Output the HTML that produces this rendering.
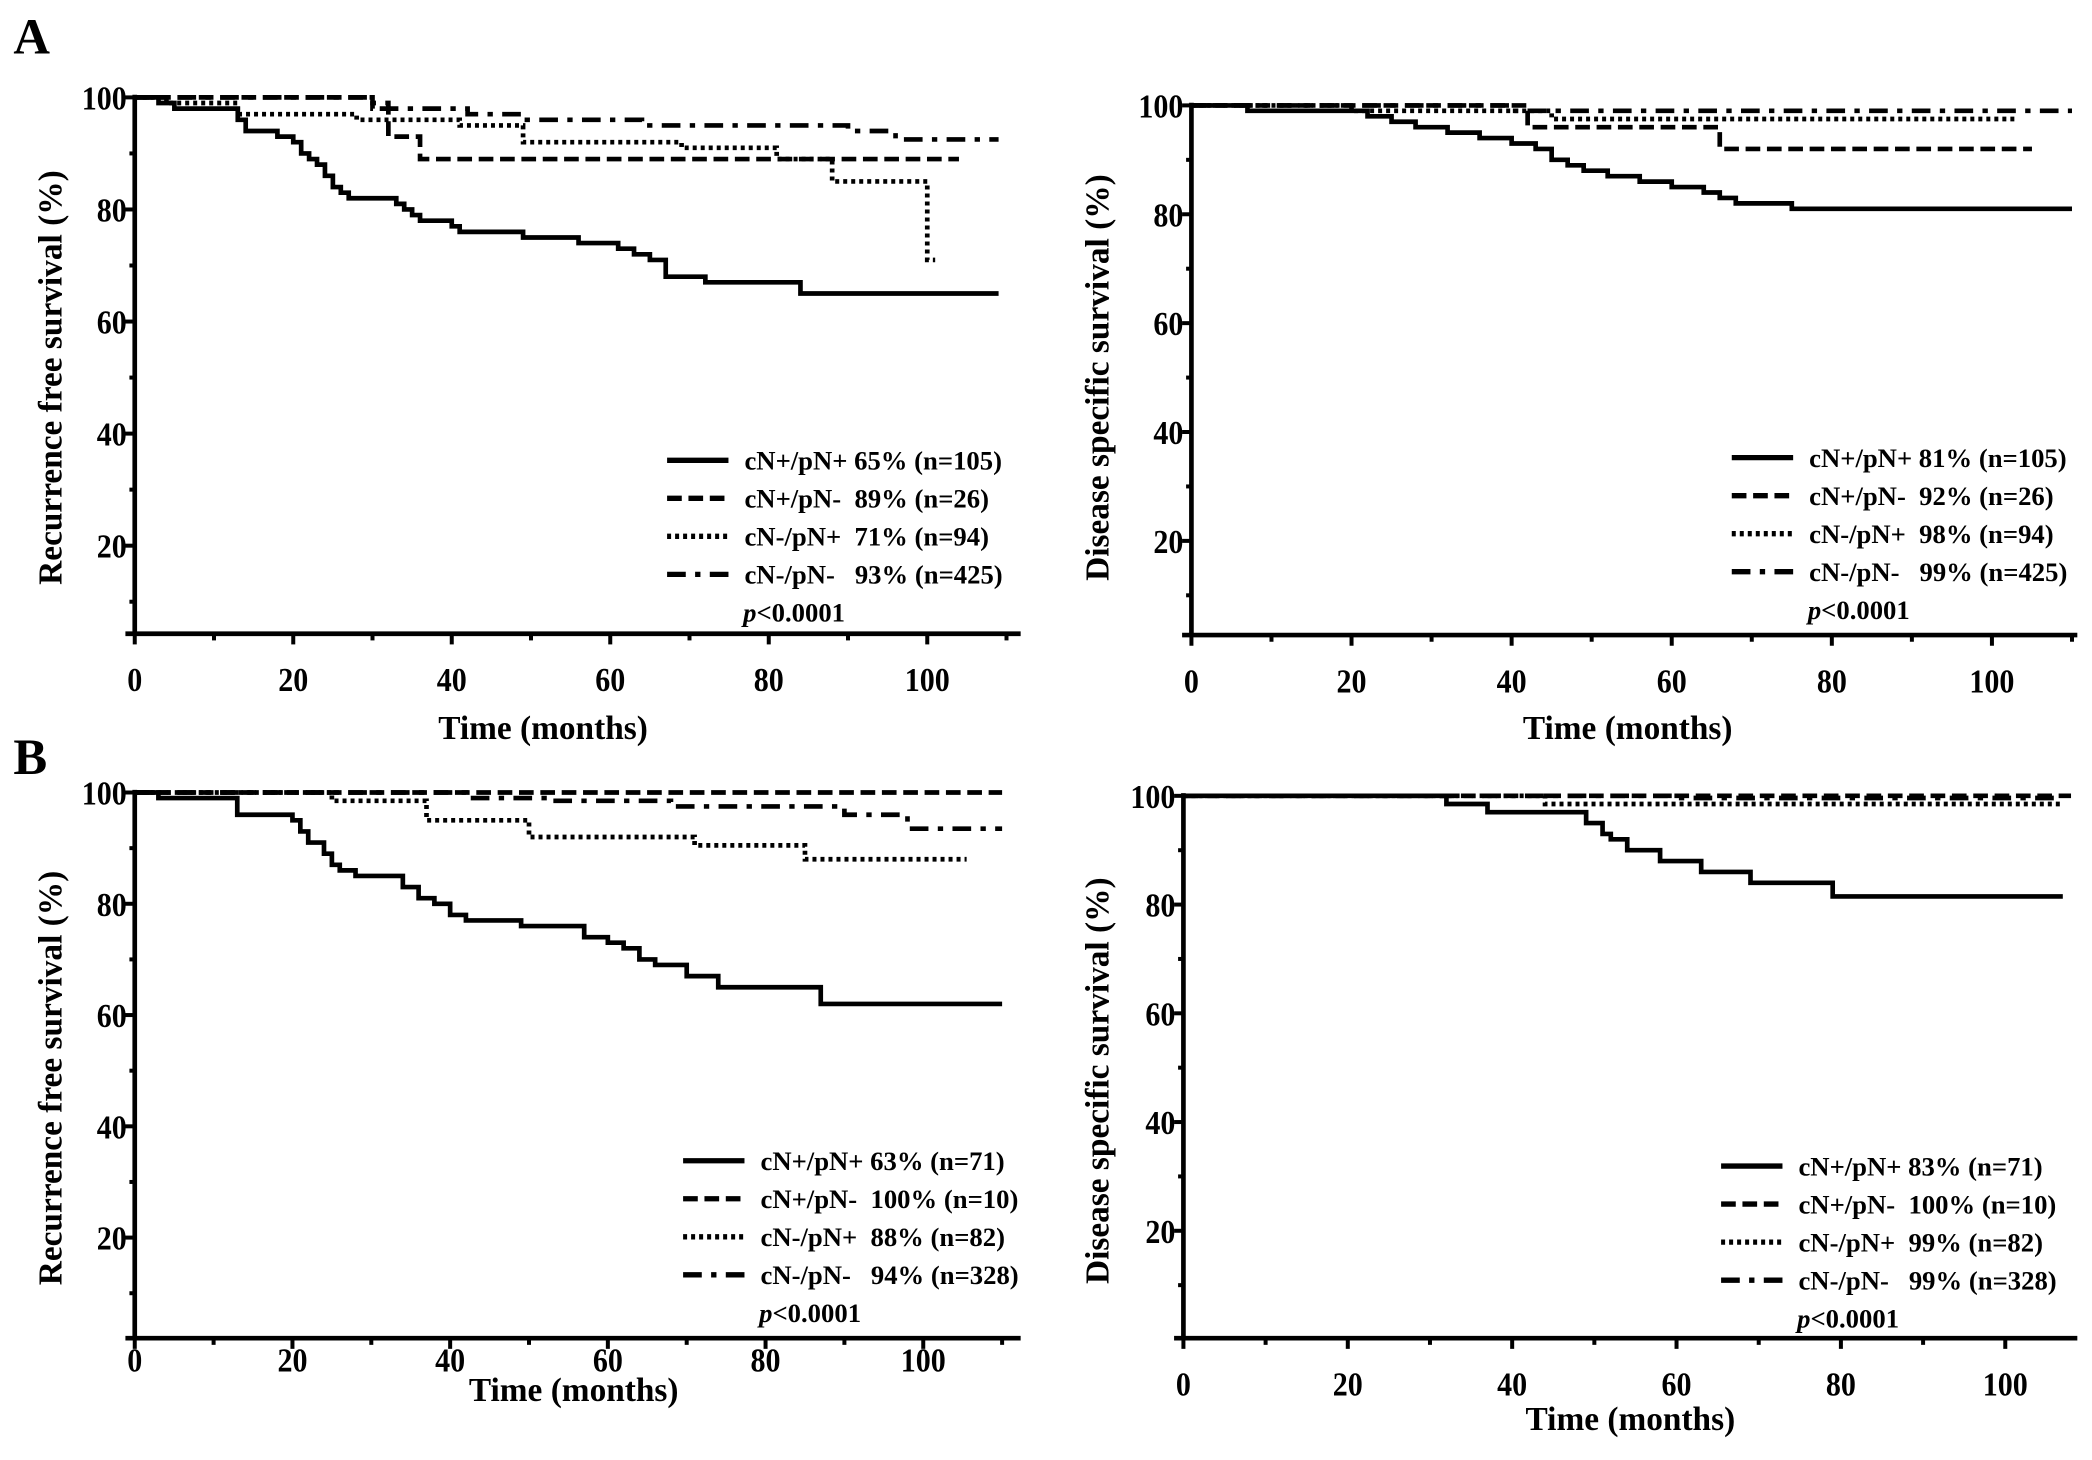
<!DOCTYPE html>
<html><head><meta charset="utf-8"><style>
html,body{margin:0;padding:0;background:#fff;}
svg{display:block;}
text{font-family:"Liberation Serif",serif;font-weight:bold;fill:#000;}
</style></head><body>
<svg id="fig" width="2092" height="1460" viewBox="0 0 1568 1094.3" xmlns="http://www.w3.org/2000/svg">
<text x="10" y="40" font-size="38">A</text>
<text x="10" y="580" font-size="38">B</text>
</svg>
<script>
// ---- data: step changes (time, survival %) ----
// A left: recurrence free survival
const aL_solid_t=[3,5,13,14,18,20,21,22,23,24,25,26,27,33,34,35,36,40,41,49,56,61,63,65,67,72,84];
const aL_solid_v=[99,98,96,94,93,92,90,89,88,86,84,83,82,81,80,79,78,77,76,75,74,73,72,71,68,67,65];
const aL_dash_t=[30,32,36];
const aL_dash_v=[98,93,89];
const aL_dot_t=[4,13,28,41,49,69,81,88,100];
const aL_dot_v=[99,97,96,95,92,91,89,85,71];
const aL_dd_t=[30,32,42,49,64,90,96];
const aL_dd_v=[99,98,97,96,95,94,92.5];
// A right: disease specific survival
const aR_solid_t=[7,22,25,28,32,36,40,43,45,47,49,52,56,60,64,66,68,75];
const aR_solid_v=[99,98,97,96,95,94,93,92,90,89,88,87,86,85,84,83,82,81];
const aR_dash_t=[42,66];
const aR_dash_v=[96,92];
const aR_dot_t=[20,45];
const aR_dot_v=[99,97.5];
const aR_dd_t=[40];
const aR_dd_v=[99];
// B left
const bL_solid_t=[3,13,20,21,22,24,25,26,28,34,36,38,40,42,49,57,60,62,64,66,70,74,87];
const bL_solid_v=[99,96,95,93,91,89,87,86,85,83,81,80,78,77,76,74,73,72,70,69,67,65,62];
const bL_dash_t=[];
const bL_dash_v=[];
const bL_dot_t=[25,37,50,71,85];
const bL_dot_v=[98.5,95,92,90.5,88];
const bL_dd_t=[42,53,68,90,98];
const bL_dd_v=[99,98.5,97.5,96,93.5];
// B right
const bR_solid_t=[32,37,49,51,52,54,58,63,69,79];
const bR_solid_v=[98.5,97,95,93,92,90,88,86,84,81.5];
const bR_dash_t=[];
const bR_dash_v=[];
const bR_dot_t=[44];
const bR_dot_v=[98.5];
const bR_dd_t=[60];
const bR_dd_v=[99.6];
// legend text
const aL_legend=["cN+/pN+ 65% (n=105)","cN+/pN-  89% (n=26)","cN-/pN+  71% (n=94)","cN-/pN-   93% (n=425)"];
const aR_legend=["cN+/pN+ 81% (n=105)","cN+/pN-  92% (n=26)","cN-/pN+  98% (n=94)","cN-/pN-   99% (n=425)"];
const bL_legend=["cN+/pN+ 63% (n=71)","cN+/pN-  100% (n=10)","cN-/pN+  88% (n=82)","cN-/pN-   94% (n=328)"];
const bR_legend=["cN+/pN+ 83% (n=71)","cN+/pN-  100% (n=10)","cN-/pN+  99% (n=82)","cN-/pN-   99% (n=328)"];
const xTicks=[0,20,40,60,80,100];
const yTicks=[20,40,60,80,100];

const NS="http://www.w3.org/2000/svg";
const svg=document.getElementById('fig');
function mk(tag,attrs,parent){const e=document.createElementNS(NS,tag);for(const k in attrs)e.setAttribute(k,attrs[k]);(parent||svg).appendChild(e);return e;}
const dashes={solid:"",dash:"11,5",dot:"3,3",dd:"14,7,4,7"};

const panels=[
 {id:"a-left",x0:101,xs:5.94,y0:493,ys:4.2,axisY:475,xEnd:765,lblOff:43,title:"Recurrence free survival (%)",tx:37,ty:283,xtx:407,xty:554,ends:[109,104,101,109],leg:aL_legend,lx:500,ly:345,series:[[aL_solid_t,aL_solid_v],[aL_dash_t,aL_dash_v],[aL_dot_t,aL_dot_v],[aL_dd_t,aL_dd_v]]},
 {id:"a-right",x0:893,xs:6.0,y0:487,ys:4.08,axisY:476,xEnd:1557,lblOff:43,title:"Disease specific survival (%)",tx:822,ty:283,xtx:1220,xty:554,ends:[110,105,103,110],leg:aR_legend,lx:1298,ly:343,series:[[aR_solid_t,aR_solid_v],[aR_dash_t,aR_dash_v],[aR_dot_t,aR_dot_v],[aR_dd_t,aR_dd_v]]},
 {id:"b-left",x0:101,xs:5.91,y0:1011,ys:4.17,axisY:1003,xEnd:765,lblOff:25,title:"Recurrence free survival (%)",tx:37,ty:808,xtx:430,xty:1050,ends:[110,110,105.5,110],leg:bL_legend,lx:512,ly:870,series:[[bL_solid_t,bL_solid_v],[bL_dash_t,bL_dash_v],[bL_dot_t,bL_dot_v],[bL_dd_t,bL_dd_v]]},
 {id:"b-right",x0:887,xs:6.16,y0:1004,ys:4.075,axisY:1003,xEnd:1557,lblOff:43,title:"Disease specific survival (%)",tx:822,ty:810,xtx:1222,xty:1072,ends:[107,108,107,107],leg:bR_legend,lx:1290,ly:874,series:[[bR_solid_t,bR_solid_v],[bR_dash_t,bR_dash_v],[bR_dot_t,bR_dot_v],[bR_dd_t,bR_dd_v]]}
];
const styles=["solid","dash","dot","dd"];
panels.forEach(p=>{
 const X=v=>p.x0+v*p.xs, Y=v=>p.y0-v*p.ys;
 const g=mk('g',{});
 
 
 const ya=mk('line',{x1:p.x0,y1:Y(100)-2,x2:p.x0,y2:p.axisY,stroke:"#000","stroke-width":3.5},g);
 
 
 const xa=mk('line',{x1:p.x0-7,y1:p.axisY,x2:p.xEnd,y2:p.axisY,stroke:"#000","stroke-width":3.5},g);
 
 
 for(let v=10;v<=100;v+=10){const t=mk('line',{x1:p.x0-(v%20?4:7),y1:Y(v),x2:p.x0,y2:Y(v),stroke:"#000","stroke-width":3},g);}
 for(let v=0;v*p.xs+p.x0<=p.xEnd;v+=10){const t=mk('line',{x1:X(v),y1:p.axisY,x2:X(v),y2:p.axisY+(v%20?5:8),stroke:"#000","stroke-width":3},g);}
 yTicks.forEach(v=>{const t=mk('text',{x:p.x0-6,y:Y(v)+9,"font-size":25,"text-anchor":"end",transform:`translate(${p.x0-6} 0) scale(0.9 1) translate(${-(p.x0-6)} 0)`},g);t.textContent=v;});
 xTicks.forEach(v=>{const t=mk('text',{x:X(v),y:p.axisY+p.lblOff,"font-size":25,"text-anchor":"middle",transform:`translate(${X(v)} 0) scale(0.9 1) translate(${-X(v)} 0)`},g);t.textContent=v;});
 const yt=mk('text',{x:p.tx,y:p.ty,"font-size":25,"text-anchor":"middle",transform:`rotate(-90 ${p.tx} ${p.ty})`,dy:9},g);
 yt.textContent=p.title;
 
 
 const xt=mk('text',{x:p.xtx,y:p.xty,"font-size":25,"text-anchor":"middle"},g);
 xt.textContent="Time (months)";
 
 
 p.series.forEach((s,i)=>{
  const [ts,vs]=s;
  let d=`M${X(0)},${Y(100)}`;
  for(let k=0;k<ts.length;k++){d+=` H${X(ts[k])} V${Y(vs[k])}`;}
  d+=` H${X(p.ends[i])}`;
  const path=mk('path',{d:d,fill:"none",stroke:"#000","stroke-width":3.5,"stroke-dasharray":dashes[styles[i]]},g);
  
  
 });
 p.leg.forEach((txt,i)=>{
  const y=p.ly+i*28.5;
  const l=mk('line',{x1:p.lx,y1:y,x2:p.lx+46,y2:y,stroke:"#000","stroke-width":4,"stroke-dasharray":dashes[styles[i]]},g);
  
  
  const t=mk('text',{x:p.lx+58,y:y+7,"font-size":20},g);
  t.textContent=txt;
  t.style.whiteSpace='pre';
  
  
 });
 const pt=mk('text',{x:p.lx+57,y:p.ly+4*28.5+7,"font-size":20},g);
 pt.innerHTML='<tspan font-style="italic">p</tspan>&lt;0.0001';
 
 
});
</script>
</body></html>
